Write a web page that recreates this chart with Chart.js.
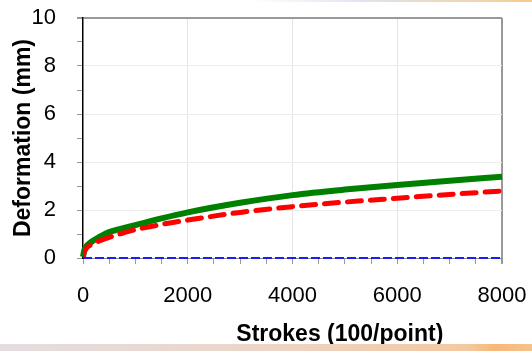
<!DOCTYPE html>
<html>
<head>
<meta charset="utf-8">
<script src="https://cdn.jsdelivr.net/npm/chart.js@4"></script>
<style>
  html, body { margin: 0; padding: 0; background: #fff; }
  #wrap { position: relative; width: 532px; height: 351px; overflow: hidden; }
  #topbar { position: absolute; left: 250px; top: 0; width: 282px; height: 2px;
    background: linear-gradient(to right, rgba(220,228,240,0), #dfe4ee 40%, #f2d3a8 85%, #f7c98a); }
  #botbar { position: absolute; left: 0; top: 344px; width: 532px; height: 7px;
    background: linear-gradient(to right, #e4dde0, #ecd5c8 50%, #f3c9a0 88%, #f7b878 93%, #f5c28d); }
</style>
</head>
<body>
<div id="wrap">
  <div id="topbar"></div>
  <div id="botbar"></div>
  <canvas id="deformChart" width="532" height="351"></canvas>
</div>
<script>
// strokes (x axis, 100/point)
var strokes = [0, 25, 50, 100, 200, 300, 500, 750, 1000, 1500, 2000, 3000, 4000, 5000, 6000, 7000, 8000];
// deformation in mm
var greenVals = [0.05, 0.32, 0.44, 0.57, 0.73, 0.86, 1.08, 1.23, 1.37, 1.65, 1.9, 2.3, 2.62, 2.85, 3.04, 3.22, 3.39];
var redVals = [0.05, 0.25, 0.35, 0.48, 0.6, 0.7, 0.86, 1.03, 1.18, 1.4, 1.58, 1.9, 2.14, 2.33, 2.49, 2.65, 2.79];
var blueVals = [0, 0, 0, 0, 0, 0, 0, 0, 0, 0, 0, 0, 0, 0, 0, 0, 0];

var xTitle = 'Strokes (100/point)';
var yTitle = 'Deformation (mm)';

function toPoints(vals) {
    return strokes.map(function(s, i) { return { x: s, y: vals[i] }; });
}

// x title sits right of the plot centre in the original
var xTitlePlugin = {
    id: 'xTitle',
    afterDraw: function(chart) {
        var c = chart.ctx;
        var area = chart.chartArea;
        c.save();
        c.font = 'bold 23px "Liberation Sans", Arial, sans-serif';
        c.fillStyle = '#000';
        c.textAlign = 'center';
        c.textBaseline = 'middle';
        c.fillText(xTitle, area.left + (area.right - area.left) * 0.613, 335);
        c.restore();
    }
};

document.addEventListener('DOMContentLoaded', function() {
    Chart.defaults.font.family = '"Liberation Sans", Arial, sans-serif';
    Chart.defaults.color = '#000';
    var ctx = document.getElementById('deformChart').getContext('2d');
    var deformChart = new Chart(ctx, {
        type: 'line',
        data: {
            datasets: [{
                label: 'Series 3',
                data: toPoints(blueVals),
                borderColor: '#1a1aff',
                borderWidth: 2,
                borderDash: [9, 3],
                pointRadius: 0,
                clip: 4
            }, {
                label: 'Series 2',
                data: toPoints(redVals),
                borderColor: '#ff0000',
                borderWidth: 5,
                borderDash: [14, 9],
                borderCapStyle: 'round',
                cubicInterpolationMode: 'monotone',
                pointRadius: 0
            }, {
                label: 'Series 1',
                data: toPoints(greenVals),
                borderColor: '#008000',
                borderWidth: 6,
                cubicInterpolationMode: 'monotone',
                pointRadius: 0,
                clip: 4
            }]
        },
        options: {
            responsive: false,
            animation: false,
            layout: { padding: { top: 18, right: 30, left: 0, bottom: 0 } },
            plugins: {
                legend: { display: false },
                tooltip: { enabled: false }
            },
            scales: {
                x: {
                    type: 'linear',
                    min: 0,
                    max: 8000,
                    afterFit: function(scale) {
                        scale.height = 351 - 258;
                        scale.paddingLeft = 0;
                        scale.paddingRight = 0;
                    },
                    border: { color: '#888', width: 1 },
                    grid: {
                        tickLength: 6,
                        tickColor: '#999',
                        color: function(c) {
                            var v = c.tick.value;
                            if (v === 8000) return '#999';
                            if (v > 0 && v % 2000 === 0) return '#e4e4e4';
                            return 'rgba(0,0,0,0)';
                        },
                        lineWidth: function(c) { return c.tick.value === 8000 ? 2 : 1; }
                    },
                    ticks: {
                        stepSize: 500,
                        padding: 19,
                        maxRotation: 0,
                        autoSkip: false,
                        font: { size: 22 },
                        callback: function(v) { return v % 2000 === 0 ? v : ''; }
                    }
                },
                y: {
                    min: 0,
                    max: 10,
                    afterFit: function(scale) {
                        scale.width = 83;
                        scale.paddingTop = 0;
                        scale.paddingBottom = 0;
                    },
                    border: { color: '#000', width: 1.5 },
                    title: {
                        display: true,
                        text: yTitle,
                        font: { size: 23, weight: 'bold' },
                        padding: { top: 10, bottom: 0 }
                    },
                    grid: {
                        tickLength: 6,
                        tickColor: '#999',
                        color: function(c) {
                            var v = c.tick.value;
                            if (v === 10) return '#999';
                            if (v > 0 && v % 2 === 0) return '#ececec';
                            return 'rgba(0,0,0,0)';
                        },
                        lineWidth: function(c) { return c.tick.value === 10 ? 2 : 1; }
                    },
                    ticks: {
                        stepSize: 1,
                        padding: 21,
                        autoSkip: false,
                        font: { size: 22 },
                        callback: function(v) { return v % 2 === 0 ? v : ''; }
                    }
                }
            }
        },
        plugins: [xTitlePlugin]
    });
});
</script>
</body>
</html>
